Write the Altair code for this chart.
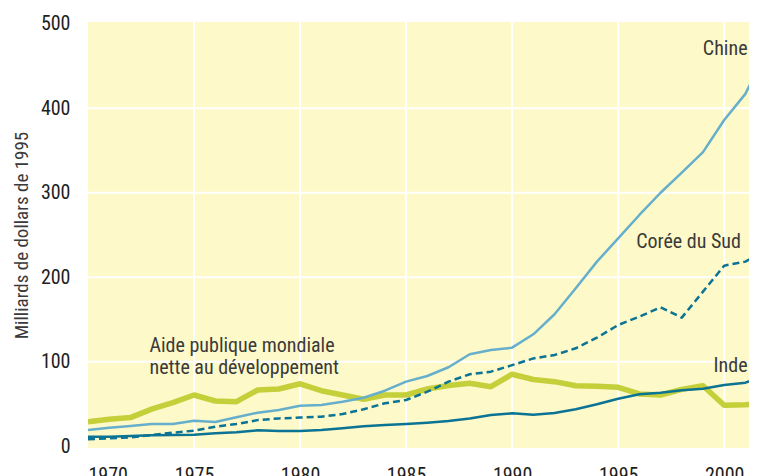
import altair as alt
import pandas as pd

years = list(range(1970, 2003))
chine = [19.3, 22, 24, 26.4, 26.4, 30.3, 28.8, 34.3, 39.8, 43, 48, 48.9, 52.8, 57.5, 65.8, 76.5, 83.2,
         93.5, 108.9, 114, 116.7, 132.5, 156.2, 187, 218.5, 246, 273.7, 300, 323.8, 348, 386, 417, 468]
coree = [8.3, 9.5, 10.6, 13.4, 16.1, 18.5, 23.2, 26.4, 31, 33, 34, 35, 38.2, 43.8, 50.9, 54.8, 64.6,
         76.5, 85.2, 88.3, 96, 104, 108, 116, 128.5, 143.5, 153.4, 164.5, 152.2, 183, 213.7, 218.5, 232]
inde = [11.4, 11.4, 12.2, 13, 13.4, 13.8, 15.4, 16.5, 18.9, 18, 18, 19.3, 21.3, 23.7, 25.2, 26.4, 28,
        30, 33, 37, 39, 37.4, 39.4, 43.8, 49.7, 56.3, 61.5, 63.4, 66.2, 68.2, 72.5, 75.3, 84]
aide = [29, 32, 34, 44, 51.6, 60.7, 53.6, 52.8, 66.6, 67.8, 74, 65.8, 60.7, 55.6, 60.7, 60.7, 67.8,
        72, 74.5, 70.5, 85.3, 79, 76.5, 71.7, 71, 69.8, 61.9, 60.7, 67.4, 71.7, 48.5, 49.2, 51]

x_ticks = [1970, 1975, 1980, 1985, 1990, 1995, 2000]
y_ticks = [0, 100, 200, 300, 400, 500]
x_grid = [1975, 1980, 1985, 1990, 1995, 2000]
y_grid = [100, 200, 300, 400]

label_text = ["Chine", "Corée du Sud", "Aide publique mondiale", "nette au développement", "Inde"]
label_year = [2001.1, 1995.85, 1972.9, 1972.9, 2001.1]
label_value = [463, 234.6, 111.9, 85.5, 88.2]
label_align = ["right", "left", "left", "left", "right"]

FONT = "Noto Sans Condensed, Roboto Condensed, Roboto, sans-serif"

df = pd.DataFrame({"year": years, "chine": chine, "coree": coree, "inde": inde, "aide": aide})
labels = pd.DataFrame({"text": label_text, "year": label_year, "value": label_value, "align": label_align})

xscale = alt.Scale(domain=[1970, 2001.17], nice=False, zero=False)
yscale = alt.Scale(domain=[-2, 502], nice=False, zero=False)

xaxis = alt.Axis(values=x_ticks, format="d", title=None, domain=False, ticks=False, grid=False,
                 labelPadding=17, labelFont=FONT, labelFontSize=20, labelColor="#1e1e1e")
yaxis = alt.Axis(values=y_ticks, title="Milliards de dollars de 1995", domain=False, ticks=False,
                 grid=False, labelPadding=18, labelFont=FONT, labelFontSize=20, labelColor="#1e1e1e",
                 titleFont=FONT, titleFontSize=19, titleFontWeight="normal", titleColor="#3a3a3a",
                 titleX=-67, titleY=213, titleAngle=-90, titleAlign="center", titleBaseline="middle")

vgrid = alt.Chart(pd.DataFrame({"g": x_grid})).mark_rule(color="white", strokeWidth=2).encode(
    x=alt.X("g:Q", scale=xscale, axis=xaxis))
hgrid = alt.Chart(pd.DataFrame({"g": y_grid})).mark_rule(color="white", strokeWidth=2).encode(
    y=alt.Y("g:Q", scale=yscale, axis=yaxis))

base = alt.Chart(df)

def line(col, color, width, dash=None):
    kw = dict(color=color, strokeWidth=width, clip=True, strokeJoin="round")
    if dash:
        kw["strokeDash"] = dash
    return base.mark_line(**kw).encode(
        x=alt.X("year:Q", scale=xscale, axis=xaxis),
        y=alt.Y(f"{col}:Q", scale=yscale, axis=yaxis),
    )

aide_line = line("aide", "#c4cf3a", 5.5)
chine_line = line("chine", "#65afcc", 2.5)
coree_line = line("coree", "#0b7394", 2.5, dash=[7, 4])
inde_line = line("inde", "#0b7394", 2.5)

def text_layer(align):
    return alt.Chart(labels).transform_filter(alt.datum.align == align).mark_text(
        align=align, baseline="alphabetic", font=FONT, fontSize=20, color="#3a3a3a").encode(
        x=alt.X("year:Q", scale=xscale, axis=xaxis),
        y=alt.Y("value:Q", scale=yscale, axis=yaxis),
        text="text:N",
    )

chart = alt.layer(vgrid, hgrid, aide_line, chine_line, coree_line, inde_line,
                  text_layer("left"), text_layer("right")).properties(
    width=661, height=426,
    autosize=alt.AutoSizeParams(type="none"),
    padding={"left": 80, "top": 14, "right": 0, "bottom": 40},
).configure_view(fill="#fef9c9", stroke=None)

chart.save("out.html", embed_options={"renderer": "svg", "actions": False})
